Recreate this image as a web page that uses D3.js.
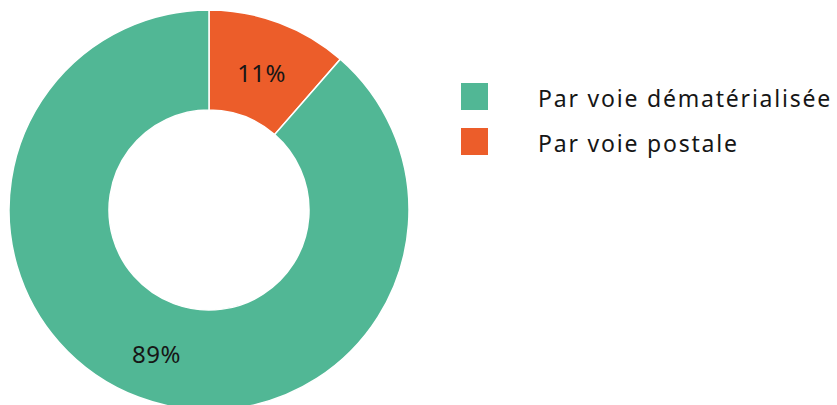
<!DOCTYPE html>
<html>
<head>
<meta charset="utf-8">
<script src="https://cdn.jsdelivr.net/npm/d3@7"></script>
<style>
    body { margin: 0; background: #fff; }
    text { font-family: "Noto Sans", sans-serif; fill: #161616; }
</style>
</head>
<body>
<div id="chart"></div>
<script>
// chart data
const categories = ["Par voie dématérialisée", "Par voie postale"];
const values = [88.6, 11.4];
const valueLabels = ["89%", "11%"];
const colors = ["#51b795", "#ec5d2a"];

const width = 837, height = 405;
const cx = 209, cy = 210;
const outerR = 200, innerR = 100;

let svg = d3.select("#chart").append("svg")
    .attr("width", width)
    .attr("height", height);

let g = svg.append("g")
    .attr("transform", "translate(" + cx + "," + cy + ")");

let data = categories.map((c, i) => ({name: c, value: values[i], label: valueLabels[i], color: colors[i]}));

// the postal slice starts at 12 o'clock, going clockwise
let pie = d3.pie()
    .value(d => d.value)
    .sort(null)
    .startAngle(0)
    .endAngle(2 * Math.PI);

let arcs = pie([data[1], data[0]]);

let arc = d3.arc()
    .innerRadius(innerR)
    .outerRadius(outerR);

g.selectAll("path.slice")
    .data(arcs)
    .enter().append("path")
    .attr("class", "slice")
    .attr("d", arc)
    .attr("fill", d => d.data.color)
    .attr("stroke", "#fff")
    .attr("stroke-width", 1.5);

// value labels at centroids
g.selectAll("text.val")
    .data(arcs)
    .enter().append("text")
    .attr("class", "val")
    .attr("x", d => arc.centroid(d)[0])
    .attr("y", d => arc.centroid(d)[1] + 3)
    .attr("text-anchor", "middle")
    .attr("dominant-baseline", "central")
    .style("font-size", "24px")
    .style("letter-spacing", "0.5px")
    .text(d => d.data.label);

// legend
let legend = svg.append("g")
    .attr("transform", "translate(461,83)");

let item = legend.selectAll("g.item")
    .data(data)
    .enter().append("g")
    .attr("class", "item")
    .attr("transform", (d, i) => "translate(0," + (i * 45) + ")");

item.append("rect")
    .attr("width", 27)
    .attr("height", 27)
    .attr("fill", d => d.color);

item.append("text")
    .attr("x", 77)
    .attr("y", 24)
    .style("font-size", "23px")
    .style("letter-spacing", "1.8px")
    .text(d => d.name);
</script>
</body>
</html>
